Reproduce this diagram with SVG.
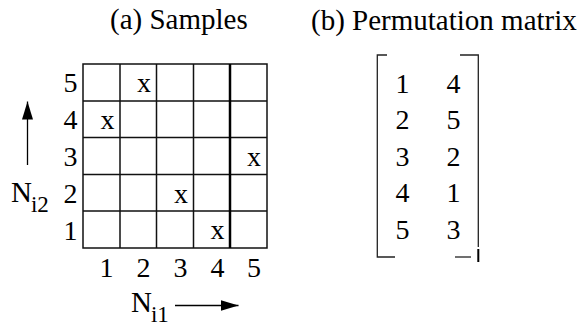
<svg xmlns="http://www.w3.org/2000/svg" width="582" height="327" viewBox="0 0 582 327">
<style>
text{font-family:"Liberation Serif","Times New Roman",serif;fill:#000}
.t{font-size:29px}
.d{font-size:28px;text-anchor:middle}
.n{font-size:29px}
.s{font-size:23px}
.g{stroke:#111;stroke-width:1.5;fill:none}
.b{stroke:#222;stroke-width:1.3;fill:none}
</style>
<defs>
<marker id="ah" viewBox="0 0 18 11" refX="18" refY="5.5" markerWidth="18" markerHeight="11" markerUnits="userSpaceOnUse" orient="auto">
<path d="M0,0 L18,5.5 L0,11 Z" fill="#000"/>
</marker>
</defs>
<g id="title-a"><text class="t" x="110" y="29">(a) Samples</text></g>
<g id="title-b"><text class="t" x="311" y="30">(b) Permutation matrix</text></g>
<g id="grid">
<rect class="g" x="83" y="64" width="184" height="184"/>
<path class="g" d="M120,64V248M156.5,64V248M193.5,64V248M83,101H267M83,137.5H267M83,174.5H267M83,211H267"/>
<path d="M230,64V248" stroke="#000" stroke-width="2.5"/>
</g>
<g id="row-labels">
<text class="d" x="70.5" y="92">5</text>
<text class="d" x="70.5" y="129">4</text>
<text class="d" x="70.5" y="166">3</text>
<text class="d" x="70.5" y="202.5">2</text>
<text class="d" x="70.5" y="239.5">1</text>
</g>
<g id="col-labels">
<text class="d" x="106.5" y="277">1</text>
<text class="d" x="143.5" y="277">2</text>
<text class="d" x="180.5" y="277">3</text>
<text class="d" x="217.5" y="277">4</text>
<text class="d" x="254" y="277">5</text>
</g>
<g id="samples">
<text class="d" x="144" y="92">x</text>
<text class="d" x="107.5" y="128.5">x</text>
<text class="d" x="254" y="165.5">x</text>
<text class="d" x="181" y="202.5">x</text>
<text class="d" x="217.5" y="239">x</text>
</g>
<g id="axis-labels">
<text class="n" x="11" y="201.5">N<tspan class="s" dx="-1" dy="10">i2</tspan></text>
<text class="n" x="131" y="311.5">N<tspan class="s" dx="-1" dy="10">i1</tspan></text>
</g>
<g id="connectors">
<line x1="27.5" y1="165" x2="27.5" y2="101.5" stroke="#000" stroke-width="1.3" marker-end="url(#ah)"/>
<line x1="175" y1="305.5" x2="238.5" y2="305.5" stroke="#000" stroke-width="1.3" marker-end="url(#ah)"/>
</g>
<g id="matrix">
<path class="b" d="M387,55H377.3V257H395"/>
<path class="b" d="M460,55H478.3V247"/>
<path d="M478.3,249V262" stroke="#000" stroke-width="2"/>
<path class="b" d="M455,257H471"/>
<text class="d" x="402.5" y="92.5">1</text>
<text class="d" x="453.5" y="92.5">4</text>
<text class="d" x="402.5" y="129">2</text>
<text class="d" x="453.5" y="129">5</text>
<text class="d" x="402.5" y="165.5">3</text>
<text class="d" x="453.5" y="165.5">2</text>
<text class="d" x="402.5" y="202">4</text>
<text class="d" x="453.5" y="202">1</text>
<text class="d" x="402.5" y="238.5">5</text>
<text class="d" x="453.5" y="238.5">3</text>
</g>
</svg>
